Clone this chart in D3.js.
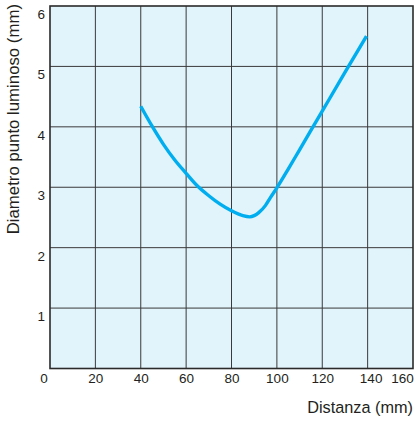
<!DOCTYPE html>
<html>
<head>
<meta charset="utf-8">
<script src="https://cdn.jsdelivr.net/npm/d3@7"></script>
<style>
  html, body { margin: 0; padding: 0; background: #ffffff; }
  svg { display: block; }
  text { font-family: "Liberation Sans", Arial, Helvetica, sans-serif; fill: #231f20; }
</style>
</head>
<body>
<svg id="chart" width="414" height="421"></svg>
<script>
// ---- data ----
const xTicks = [0, 20, 40, 60, 80, 100, 120, 140, 160];
const yTicks = [1, 2, 3, 4, 5, 6];
const distance = [40, 45, 50, 55, 60, 65, 70, 75, 80, 85, 88, 90, 92, 95, 97, 100, 105, 110, 120, 130, 139.5];
const diameter = [4.34, 4.01, 3.71, 3.45, 3.23, 3.02, 2.86, 2.72, 2.61, 2.53, 2.51, 2.53, 2.58, 2.70, 2.82, 2.99, 3.30, 3.62, 4.26, 4.90, 5.50];
const xTitle = "Distanza (mm)";
const yTitle = "Diametro punto luminoso (mm)";

// ---- layout ----
const svg = d3.select("#chart");
const mLeft = 50, mRight = 413, mTop = 6, mBottom = 368.5;

const x = d3.scaleLinear().domain([0, 160]).range([mLeft, mRight]);
const y = d3.scaleLinear().domain([0, 6]).range([mBottom, mTop]);

// plot background
svg.append("rect")
  .attr("x", mLeft).attr("y", mTop)
  .attr("width", mRight - mLeft).attr("height", mBottom - mTop)
  .attr("fill", "#e1f3fb");

// grid lines
const grid = svg.append("g").attr("stroke", "#3a3a3a").attr("stroke-width", 1);
grid.selectAll("line.v").data(xTicks.filter(d => d > 0 && d < 160)).join("line")
  .attr("class", "v")
  .attr("x1", d => x(d)).attr("x2", d => x(d))
  .attr("y1", mTop).attr("y2", mBottom);
grid.selectAll("line.h").data(yTicks.filter(d => d < 6)).join("line")
  .attr("class", "h")
  .attr("x1", mLeft).attr("x2", mRight)
  .attr("y1", d => y(d)).attr("y2", d => y(d));

// frame
svg.append("rect")
  .attr("x", mLeft).attr("y", mTop)
  .attr("width", mRight - mLeft).attr("height", mBottom - mTop)
  .attr("fill", "none").attr("stroke", "#2a2a2a").attr("stroke-width", 1.6);

// curve
const line = d3.line()
  .x((d, i) => x(distance[i]))
  .y((d, i) => y(diameter[i]))
  .curve(d3.curveMonotoneX);
svg.append("path")
  .datum(distance)
  .attr("d", line)
  .attr("fill", "none")
  .attr("stroke", "#00aeef")
  .attr("stroke-width", 3.4)
  .attr("stroke-linecap", "butt");

// x axis labels
const xAxis = d3.axisBottom(x).tickValues(xTicks).tickSize(0).tickFormat(d3.format("d"));
const gx = svg.append("g").attr("transform", `translate(0,${mBottom})`).call(xAxis);
gx.select(".domain").remove();
gx.selectAll("text")
  .attr("y", 14.5).attr("dy", null)
  .attr("dx", d => d === 0 ? -6.5 : d === 160 ? -11 : d === 140 ? 3 : 0)
  .attr("font-size", 13.5)
  .attr("font-family", null)
  .style("fill", "#231f20");
gx.attr("font-family", null).attr("font-size", null);

// y axis labels
const yAxis = d3.axisLeft(y).tickValues(yTicks).tickSize(0).tickFormat(d3.format("d"));
const gy = svg.append("g").attr("transform", `translate(${mLeft},0)`).call(yAxis);
gy.select(".domain").remove();
gy.selectAll("text")
  .attr("x", -5).attr("dy", null).attr("y", 12.5)
  .attr("font-size", 13.5)
  .style("fill", "#231f20");
gy.attr("font-family", null).attr("font-size", null);

// axis titles
svg.append("text")
  .attr("x", mRight).attr("y", 413)
  .attr("text-anchor", "end")
  .attr("font-size", 16.3)
  .text(xTitle);

svg.append("text")
  .attr("transform", `translate(19,4) rotate(-90)`)
  .attr("text-anchor", "end")
  .attr("font-size", 16.8)
  .text(yTitle);
</script>
</body>
</html>
